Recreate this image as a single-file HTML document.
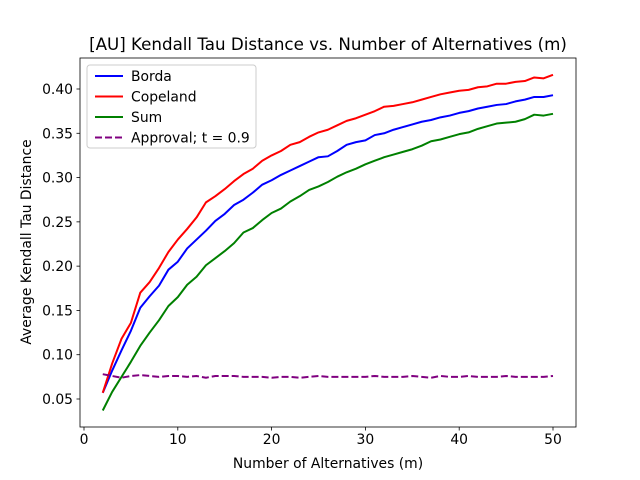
<!DOCTYPE html>
<html><head><meta charset="utf-8"><style>
body{margin:0;background:#fff}
svg{display:block;font-family:"DejaVu Sans","Liberation Sans",sans-serif}
</style></head><body>
<svg id="chart" width="640" height="480"></svg>
<script>
const ms = [];
for (let m = 2; m <= 50; m++) ms.push(m);
const borda = [0.057,0.082,0.105,0.127,0.153,0.166,0.178,0.196,0.205,0.220,0.230,0.240,0.251,0.259,0.269,0.275,0.283,0.292,0.297,0.303,0.308,0.313,0.318,0.323,0.324,0.330,0.337,0.340,0.342,0.348,0.350,0.354,0.357,0.360,0.363,0.365,0.368,0.370,0.373,0.375,0.378,0.380,0.382,0.383,0.386,0.388,0.391,0.391,0.393];
const copeland = [0.057,0.090,0.118,0.136,0.170,0.182,0.198,0.216,0.230,0.242,0.255,0.272,0.279,0.287,0.296,0.304,0.310,0.319,0.325,0.330,0.337,0.340,0.346,0.351,0.354,0.359,0.364,0.367,0.371,0.375,0.380,0.381,0.383,0.385,0.388,0.391,0.394,0.396,0.398,0.399,0.402,0.403,0.406,0.406,0.408,0.409,0.413,0.412,0.416];
const sum = [0.037,0.058,0.075,0.092,0.110,0.125,0.139,0.155,0.165,0.179,0.188,0.201,0.209,0.217,0.226,0.238,0.243,0.252,0.260,0.265,0.273,0.279,0.286,0.290,0.295,0.301,0.306,0.310,0.315,0.319,0.323,0.326,0.329,0.332,0.336,0.341,0.343,0.346,0.349,0.351,0.355,0.358,0.361,0.362,0.363,0.366,0.371,0.370,0.372];
const approval = [0.078,0.076,0.074,0.076,0.077,0.076,0.075,0.076,0.076,0.075,0.076,0.074,0.076,0.076,0.076,0.075,0.075,0.075,0.074,0.075,0.075,0.074,0.075,0.076,0.075,0.075,0.075,0.075,0.075,0.076,0.075,0.075,0.075,0.076,0.075,0.074,0.076,0.075,0.075,0.076,0.075,0.075,0.075,0.076,0.075,0.075,0.075,0.075,0.076];
const xTicks = [0,10,20,30,40,50];
const yTicks = [0.05,0.10,0.15,0.20,0.25,0.30,0.35,0.40];

const L=80,R=576,T=58,B=427;
const x = v => 84 + (v-0)*(553-84)/50;
const y = v => 399 - (v-0.05)*(399-89)/0.35;
const svg = document.getElementById('chart');
const NS='http://www.w3.org/2000/svg';
function mk(tag, attrs, parent){const e=document.createElementNS(NS,tag);for(const k in attrs)e.setAttribute(k,attrs[k]);(parent||svg).appendChild(e);return e;}

const frame = mk('rect',{x:L,y:T,width:R-L,height:B-T,fill:'none',stroke:'#000','stroke-width':0.8});



xTicks.forEach(t=>{
  const g=mk('g',{});
  
  
  mk('line',{x1:x(t),x2:x(t),y1:B,y2:B+3.5,stroke:'#000','stroke-width':0.8},g);
  const tx=mk('text',{x:x(t),y:B+17,'text-anchor':'middle','font-size':'13.9px'},g);tx.textContent=t;
});
yTicks.forEach(t=>{
  const g=mk('g',{});
  
  
  mk('line',{x1:L-3.5,x2:L,y1:y(t),y2:y(t),stroke:'#000','stroke-width':0.8},g);
  const tx=mk('text',{x:L-7,y:y(t)+5,'text-anchor':'end','font-size':'13.9px'},g);tx.textContent=t.toFixed(2);
});

function series(vals,color,name,dash){
  const d=vals.map((v,i)=>(i?'L':'M')+x(ms[i]).toFixed(2)+','+y(v).toFixed(2)).join(' ');
  const p=mk('path',{d:d,fill:'none',stroke:color,'stroke-width':2,'stroke-linejoin':'round'});
  if(dash)p.setAttribute('stroke-dasharray',dash);
  
  
}
series(borda,'#0000ff','borda-line');
series(copeland,'#ff0000','copeland-line');
series(sum,'#008000','sum-line');
series(approval,'#800080','approval-line','7,3');

const title=mk('text',{x:328,y:50,'text-anchor':'middle','font-size':'16.7px'});
title.textContent='[AU] Kendall Tau Distance vs. Number of Alternatives (m)';


const xl=mk('text',{x:328,y:468,'text-anchor':'middle','font-size':'13.9px'});
xl.textContent='Number of Alternatives (m)';


const yl=mk('text',{x:0,y:0,'text-anchor':'middle','font-size':'13.9px',transform:'translate(31,242) rotate(-90)'});
yl.textContent='Average Kendall Tau Distance';



const lg=mk('g',{});


mk('rect',{x:87,y:65,width:169,height:83,rx:3,fill:'#fff','fill-opacity':0.8,stroke:'#ccc','stroke-width':1},lg);
const entries=[['Borda','#0000ff',null],['Copeland','#ff0000',null],['Sum','#008000',null],['Approval; t = 0.9','#800080','7,3']];
entries.forEach((e,i)=>{
  const g=mk('g',{},lg);
  
  
  const yy=76+i*20.5;
  const ln=mk('line',{x1:95,x2:123,y1:yy,y2:yy,stroke:e[1],'stroke-width':2},g);
  if(e[2])ln.setAttribute('stroke-dasharray',e[2]);
  const t=mk('text',{x:131,y:yy+5,'font-size':'13.9px'},g);t.textContent=e[0];
});
</script>
</body></html>
